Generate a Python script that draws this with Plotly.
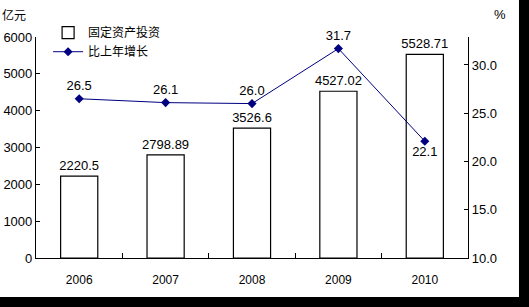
import plotly.graph_objects as go

years = ["2006", "2007", "2008", "2009", "2010"]
investment = [2220.5, 2798.89, 3526.6, 4527.02, 5528.71]
investment_labels = ["2220.5", "2798.89", "3526.6", "4527.02", "5528.71"]
growth = [26.5, 26.1, 26.0, 31.7, 22.1]
growth_labels = ["26.5", "26.1", "26.0", "31.7", "22.1"]
growth_pos = ["top center", "top center", "top center", "top center", "bottom center"]

num_font = dict(family="Liberation Sans Narrow, Liberation Sans, Arial", size=13, color="black")
cjk_font = dict(family="Noto Sans CJK SC", size=12, color="black")

fig = go.Figure()
fig.add_trace(go.Bar(
    x=years, y=investment, name="固定资产投资",
    marker=dict(color="white", line=dict(color="black", width=1.2)),
    width=0.43, text=investment_labels, textposition="outside",
    textfont=num_font, cliponaxis=False, constraintext="none",
))
fig.add_trace(go.Scatter(
    x=years, y=growth, name="比上年增长", yaxis="y2",
    mode="lines+markers+text",
    line=dict(color="#000080", width=1),
    marker=dict(color="#000080", symbol="diamond", size=7),
    text=growth_labels, textposition=growth_pos, textfont=num_font,
    cliponaxis=False,
))

fig.update_layout(
    width=529, height=307,
    margin=dict(l=36, r=61, t=37, b=49, autoexpand=False),
    paper_bgcolor="white", plot_bgcolor="white",
    showlegend=True,
    legend=dict(x=0.028, y=1.085, xanchor="left", yanchor="top",
                font=cjk_font, bgcolor="rgba(0,0,0,0)", itemwidth=30,
                tracegroupgap=0),
    xaxis=dict(showline=True, linecolor="black", linewidth=1.2,
               ticks="inside", ticklen=5, tickcolor="black",
               tickson="boundaries", ticklabelstandoff=10, automargin=False,
               tickfont=dict(family="Liberation Sans Narrow, Liberation Sans", size=12, color="black"),
               showgrid=False, mirror=False),
    yaxis=dict(range=[0, 6000], dtick=1000, showline=True, linecolor="black",
               linewidth=1.2, ticks="inside", ticklen=4, tickcolor="black",
               showgrid=False, zeroline=False, tickfont=num_font, automargin=False),
    yaxis2=dict(range=[10, 32.9], tickvals=[10, 15, 20, 25, 30],
                ticktext=["10.0", "15.0", "20.0", "25.0", "30.0"],
                overlaying="y", side="right", showline=True, linecolor="black",
                linewidth=1.2, ticks="inside", ticklen=4, tickcolor="black",
                showgrid=False, zeroline=False, tickfont=num_font, automargin=False),
    bargap=0.57,
    annotations=[
        dict(text="亿元", xref="paper", yref="paper", x=-0.083, y=1.1,
             xanchor="left", yanchor="middle", showarrow=False, font=cjk_font),
        dict(text="%", xref="paper", yref="paper", x=1.055, y=1.1,
             xanchor="left", yanchor="middle", showarrow=False, font=num_font),
    ],
    shapes=[
        dict(type="rect", xref="paper", yref="paper", x0=1.118, x1=1.16,
             y0=-0.23, y1=1.2, fillcolor="black", line=dict(width=0)),
        dict(type="rect", xref="paper", yref="paper", x0=-0.1, x1=1.16,
             y0=-0.23, y1=-0.1765, fillcolor="black", line=dict(width=0)),
    ],
)

fig.write_html("out.html")
